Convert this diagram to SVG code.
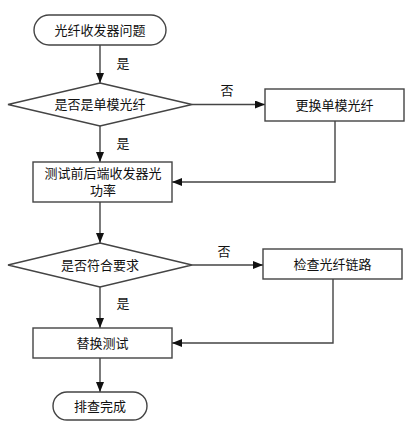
<svg xmlns="http://www.w3.org/2000/svg" width="420" height="432" viewBox="0 0 420 432">
<defs>
<marker id="arr" markerWidth="10" markerHeight="8" refX="10" refY="4" orient="auto" markerUnits="userSpaceOnUse">
<path d="M0,0 L10,4 L0,8 Z" fill="#111"/>
</marker>
<style>
.shape{fill:#fff;stroke:#444;stroke-width:1.4}
.line{fill:none;stroke:#444;stroke-width:1.4}
.t{font-family:"Liberation Serif","Noto Sans CJK SC",serif;font-size:13px;fill:#111;text-anchor:middle;dominant-baseline:central}
.l{font-family:"Liberation Serif","Noto Sans CJK SC",serif;font-size:13px;fill:#111;text-anchor:middle;dominant-baseline:central}
</style>
</defs>
<rect width="420" height="432" fill="#fff"/>
<g id="connectors">
<path class="line" d="M100,45 V83" marker-end="url(#arr)"/>
<path class="line" d="M192,104.5 H265" marker-end="url(#arr)"/>
<path class="line" d="M100,126 V162" marker-end="url(#arr)"/>
<path class="line" d="M335,121 V182 H172" marker-end="url(#arr)"/>
<path class="line" d="M100,202 V243" marker-end="url(#arr)"/>
<path class="line" d="M192,265 H263" marker-end="url(#arr)"/>
<path class="line" d="M100,287 V328" marker-end="url(#arr)"/>
<path class="line" d="M333,279 V343 H172" marker-end="url(#arr)"/>
<path class="line" d="M100,358 V392" marker-end="url(#arr)"/>
<text class="l" x="123" y="63">是</text>
<text class="l" x="227" y="90">否</text>
<text class="l" x="123" y="143">是</text>
<text class="l" x="224" y="251">否</text>
<text class="l" x="123" y="303">是</text>
</g>
<g id="start">
<rect class="shape" x="34" y="15" width="132" height="30" rx="15"/>
<text class="t" x="100" y="30">光纤收发器问题</text>
</g>
<g id="decision1">
<polygon class="shape" points="100,83 192,104.5 100,126 8,104.5"/>
<text class="t" x="100" y="104.5">是否是单模光纤</text>
</g>
<g id="replace">
<rect class="shape" x="265" y="89" width="139" height="32"/>
<text class="t" x="334.5" y="105">更换单模光纤</text>
</g>
<g id="test">
<rect class="shape" x="33" y="162" width="139" height="40"/>
<text class="t" x="103" y="173">测试前后端收发器光</text>
<text class="t" x="103" y="190">功率</text>
</g>
<g id="decision2">
<polygon class="shape" points="100,243 192,265 100,287 8,265"/>
<text class="t" x="100" y="265">是否符合要求</text>
</g>
<g id="check">
<rect class="shape" x="263" y="249" width="139" height="30"/>
<text class="t" x="332.5" y="264">检查光纤链路</text>
</g>
<g id="swap">
<rect class="shape" x="33" y="328" width="139" height="30"/>
<text class="t" x="102.5" y="343">替换测试</text>
</g>
<g id="end">
<rect class="shape" x="53" y="392" width="94" height="28" rx="14"/>
<text class="t" x="100" y="406">排查完成</text>
</g>
</svg>
